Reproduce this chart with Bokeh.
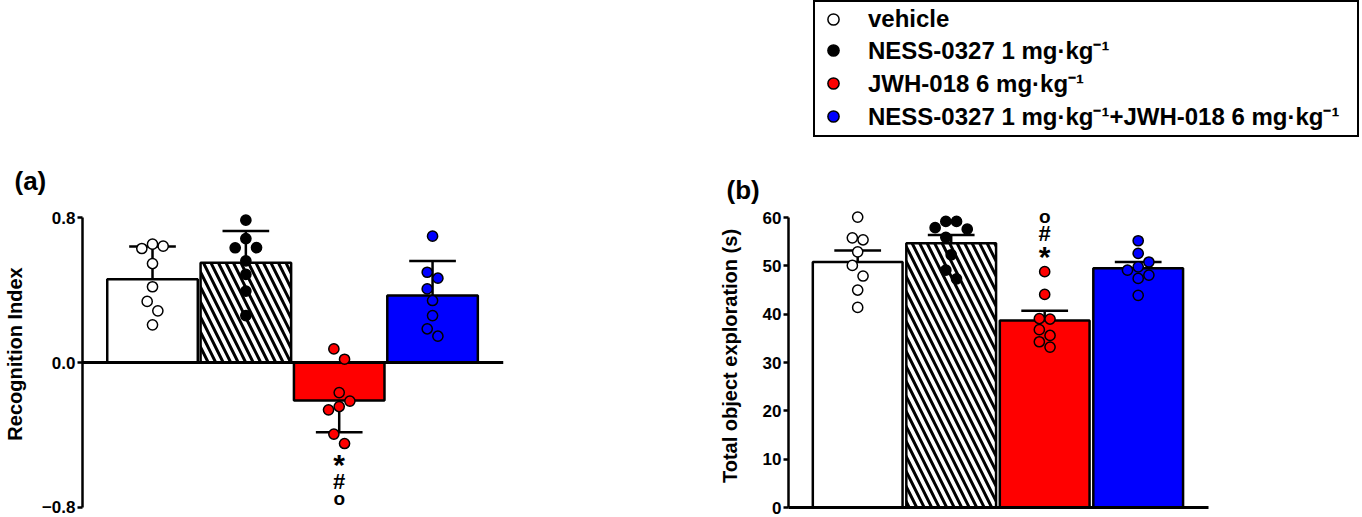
from bokeh.plotting import figure
from bokeh.models import FixedTicker, Label, Legend, LegendItem, BasicTickFormatter, LinearAxis
from bokeh.layouts import row, column
from bokeh.embed import file_html
from bokeh.resources import INLINE

FONT = "Liberation Sans"

# ---------------- data ----------------
groups = ["vehicle", "NESS-0327 1 mg·kg⁻¹", "JWH-018 6 mg·kg⁻¹",
          "NESS-0327 1 mg·kg⁻¹+JWH-018 6 mg·kg⁻¹"]

# (a) Recognition Index: mean, SD, individual animals
ri_mean = [0.46, 0.55, -0.21, 0.37]
ri_sd = [0.18, 0.175, 0.175, 0.19]
ri_vehicle = [0.653, 0.642, 0.629, 0.546, 0.418, 0.337, 0.285, 0.208]
ri_ness = [0.785, 0.684, 0.634, 0.633, 0.561, 0.486, 0.394, 0.259]
ri_jwh = [0.075, 0.018, -0.166, -0.213, -0.243, -0.261, -0.395, -0.447]
ri_combo = [0.697, 0.498, 0.465, 0.406, 0.342, 0.259, 0.186, 0.145]

# (b) Total object exploration (s): mean, SEM, individual animals
toe_mean = [50.8, 54.7, 38.7, 49.5]
toe_sem = [2.4, 1.7, 2.0, 1.3]
toe_vehicle = [60.1, 55.8, 55.4, 52.9, 50.1, 47.9, 45.0, 41.4]
toe_ness = [59.2, 59.2, 57.9, 57.6, 55.9, 52.3, 49.1, 47.3]
toe_jwh = [48.8, 44.1, 39.1, 39.0, 36.8, 35.6, 34.3, 33.2]
toe_combo = [55.2, 52.6, 50.8, 49.8, 49.1, 48.1, 47.4, 43.9]

a_ticks = [-0.8, 0.0, 0.8]
a_tick_labels = ["−0.8", "0.0", "0.8"]
b_ticks = [0, 10, 20, 30, 40, 50, 60]
sig_marks = ["*", "#", "o"]          # JWH-018 group: vs vehicle, vs NESS, vs combination

# ---------------- styles ----------------
bar_fill = ["white", "white", "#ff0000", "#0000ff"]
bar_hatch = [" ", "\\", " ", " "]
pt_fill = ["white", "black", "#ff0000", "#0000ff"]
sig_sizes = ["30px", "22px", "19px"]
sig_gap = [0, 20, 37]        # px between successive significance symbols
DOT = 10.7   # marker diameter (px)


def swarm_offsets(vals, py, step):
    """Greedy swarm layout in pixel space, clusters centred on the bar."""
    order = sorted(range(len(vals)), key=lambda i: -vals[i])
    placed = []
    off = [0.0] * len(vals)
    cands = [0, 1, -1, 2, -2, 3, -3]
    for i in order:
        y = vals[i] * py
        for c in cands:
            x = c * step
            if all((x - xx) ** 2 + (y - yy) ** 2 >= (step * 0.999) ** 2 for yy, xx in placed):
                break
        placed.append((y, x))
        off[i] = x
    cluster = [order[0]]
    clusters = []
    for a, b in zip(order[:-1], order[1:]):
        if (vals[a] - vals[b]) * py < step:
            cluster.append(b)
        else:
            clusters.append(cluster)
            cluster = [b]
    clusters.append(cluster)
    for cl in clusters:
        xs = [off[i] for i in cl]
        mid = (max(xs) + min(xs)) / 2
        for i in cl:
            off[i] -= mid
    return off


def style_y(ax, ticks, bounds, label, standoff):
    ax.ticker = FixedTicker(ticks=ticks)
    ax.bounds = bounds
    ax.axis_label = label
    ax.axis_label_text_font = FONT
    ax.axis_label_text_font_style = "bold"
    ax.axis_label_text_font_size = "20px"
    ax.axis_label_text_color = "black"
    ax.axis_label_standoff = standoff
    ax.major_label_text_font = FONT
    ax.major_label_text_font_style = "bold"
    ax.major_label_text_font_size = "17px"
    ax.major_label_text_color = "black"
    ax.major_label_standoff = 2
    ax.major_tick_out = 5
    ax.major_tick_in = 0
    ax.major_tick_line_width = 2.5
    ax.major_tick_line_color = "black"
    ax.minor_tick_out = 0
    ax.minor_tick_in = 0
    ax.axis_line_width = 2.5
    ax.axis_line_color = "black"


def panel(width, height, borders, xr, yr, title, title_offset):
    left, right, top, bottom = borders
    p = figure(width=width, height=height, x_range=xr, y_range=yr,
               x_axis_type=None, toolbar_location=None, output_backend="svg",
               min_border_left=left, min_border_right=right,
               min_border_top=top, min_border_bottom=bottom)
    p.grid.visible = False
    p.outline_line_color = None
    p.background_fill_color = "white"
    p.title.text = title
    p.title.text_font = FONT
    p.title.text_font_style = "bold"
    p.title.text_font_size = "26px"
    p.title.text_color = "black"
    p.title.align = "left"
    p.title.offset = title_offset
    p.title.standoff = 0
    return p


def draw_groups(p, means, errs, samples, bar_w, px_x, px_y, zero_line):
    xs = list(range(len(means)))
    p.vbar(x=xs, top=means, bottom=0, width=bar_w, fill_color=bar_fill,
           line_color="black", line_width=2.5, hatch_pattern=bar_hatch,
           hatch_color="black", hatch_scale=15, hatch_weight=3)
    if zero_line:
        p.hspan(y=[0], line_color="black", line_width=3)
    tips = [m + (e if m >= 0 else -e) for m, e in zip(means, errs)]
    p.segment(x0=xs, y0=means, x1=xs, y1=tips, line_color="black", line_width=2.5)
    p.segment(x0=[x - 0.25 for x in xs], y0=tips, x1=[x + 0.25 for x in xs], y1=tips,
              line_color="black", line_width=2.5)
    rends = []
    for i, vals in enumerate(samples):
        off = swarm_offsets(vals, px_y, DOT)
        rends.append(p.scatter(x=[i + o / px_x for o in off], y=vals, marker="circle",
                               size=DOT - 0.5, fill_color=pt_fill[i], line_color="black",
                               line_width=1.5))
    return rends


def add_sig(p, x, anchor, direction, first):
    for mark, fs, gap in zip(sig_marks, sig_sizes, sig_gap):
        extra = -3 if mark == "*" else 0
        p.add_layout(Label(x=x, y=anchor, y_offset=direction * (first + gap) + extra,
                           text=mark, text_align="center", text_baseline="middle",
                           text_font=FONT, text_font_style="bold", text_font_size=fs,
                           text_color="black"))


# ---------------- panel (a) ----------------
A_B = (81, 178, 195, 5)
A_X = (-0.75, 3.76)
A_Y = (-0.8276, 0.9214)
pa = panel(681, 517, A_B, A_X, A_Y, "(a)", -68)
pxa = (681 - A_B[0] - A_B[1]) / (A_X[1] - A_X[0])
pya = (517 - A_B[2] - A_B[3]) / (A_Y[1] - A_Y[0])
draw_groups(pa, ri_mean, ri_sd, [ri_vehicle, ri_ness, ri_jwh, ri_combo], 0.97, pxa, pya, True)
style_y(pa.yaxis[0], a_ticks, (a_ticks[0], a_ticks[-1]), "Recognition Index", 13)
pa.yaxis[0].formatter = BasicTickFormatter(precision=1)
pa.yaxis[0].major_label_overrides = dict(zip(a_ticks, a_tick_labels))
add_sig(pa, 2, min(ri_jwh), -1, 18)

# ---------------- panel (b) ----------------
B_B = (107, 0, 54, 10)
B_PX = 93.5                      # px per bar slot (same slot width as panel a)
B_X = (-0.74, -0.74 + (681 - 107) / B_PX)
B_Y = (0, 62.7)
pb = panel(681, 367, B_B, B_X, B_Y, "(b)", -62)
pxb = (681 - B_B[0] - B_B[1]) / (B_X[1] - B_X[0])
pyb = (367 - B_B[2] - B_B[3]) / (B_Y[1] - B_Y[0])
draw_groups(pb, toe_mean, toe_sem, [toe_vehicle, toe_ness, toe_jwh, toe_combo], 0.96, pxb, pyb, False)
style_y(pb.yaxis[0], b_ticks, (b_ticks[0], b_ticks[-1]), "Total object exploration (s)", 19)
xax = LinearAxis(ticker=FixedTicker(ticks=[]), bounds=(-0.74, 3.75), axis_line_width=3,
                 axis_line_color="black", major_tick_out=0, major_tick_in=0,
                 minor_tick_out=0, minor_tick_in=0, major_label_text_font_size="0px",
                 major_label_standoff=0)
pb.add_layout(xax, "below")
add_sig(pb, 2, max(toe_jwh), 1, 18)

# ---------------- legend block (above panel b) ----------------
pl = figure(width=681, height=150, x_range=(0, 1), y_range=(0, 1),
            x_axis_type=None, y_axis_type=None, toolbar_location=None,
            output_backend="svg", min_border_left=107, min_border_right=0,
            min_border_top=0, min_border_bottom=0)
pl.grid.visible = False
pl.outline_line_color = None
items = []
for g, c in zip(groups, pt_fill):
    # proxy marker, hidden beneath the legend box
    r = pl.scatter(x=[0.5], y=[0.5], marker="circle", size=4, fill_color=c,
                   line_color="black", line_width=1.5)
    items.append(LegendItem(label=g, renderers=[r]))
leg = Legend(items=items, location=(25, 13), orientation="vertical",
             border_line_color="black", border_line_width=2, border_line_alpha=1,
             background_fill_color="white", background_fill_alpha=1,
             padding=3, spacing=0, margin=0, glyph_width=30, glyph_height=28,
             label_height=28, label_width=486, label_standoff=20, label_text_font=FONT,
             label_text_font_style="bold", label_text_font_size="24px",
             label_text_color="black", label_text_baseline="middle")
pl.add_layout(leg)

layout = row(pa, column(pl, pb))
open("out.html", "w").write(file_html(layout, INLINE))
